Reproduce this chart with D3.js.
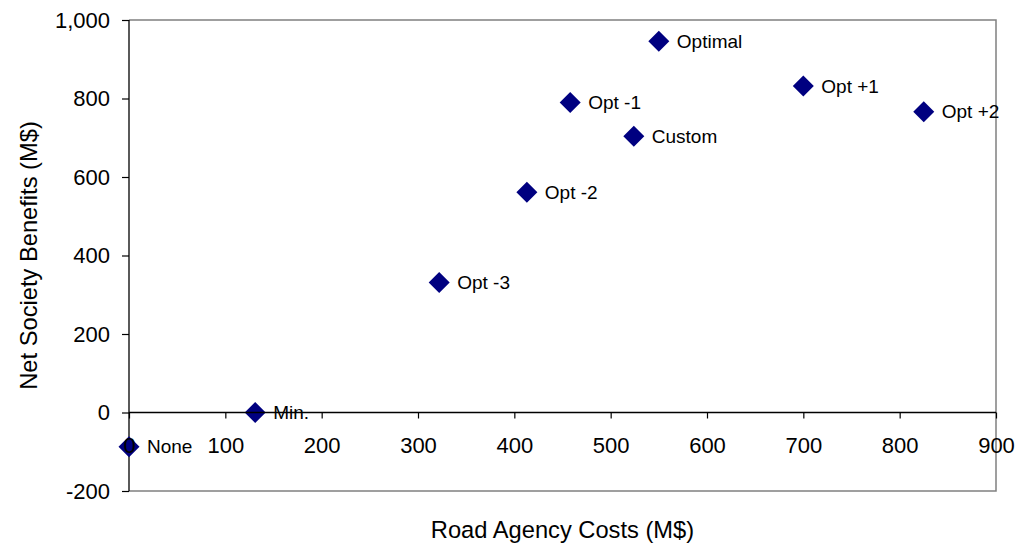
<!DOCTYPE html>
<html>
<head>
<meta charset="utf-8">
<script src="https://cdn.jsdelivr.net/npm/d3@7"></script>
<style>
  html, body { margin: 0; padding: 0; background: #fff; }
  svg { display: block; font-family: "Liberation Sans", Arial, sans-serif; }
</style>
</head>
<body>
<svg id="chart" width="1032" height="544"></svg>
<script>
// Alternatives: road agency cost vs. net benefit to society
const names    = ["None", "Min.", "Opt -3", "Opt -2", "Opt -1", "Custom", "Optimal", "Opt +1", "Opt +2"];
const costs    = [0, 131, 322, 413, 458, 524, 550, 700, 825];
const benefits = [-87, 0, 331, 561, 790, 704, 946, 832, 766];

const xTicks = [0, 100, 200, 300, 400, 500, 600, 700, 800, 900];
const yTicks = [-200, 0, 200, 400, 600, 800, 1000];
const yTickLabels = ["-200", "0", "200", "400", "600", "800", "1,000"];

const svg = d3.select("#chart");
const plotLeft = 129, plotRight = 996, plotTop = 20, plotBottom = 491;

const x = d3.scaleLinear().domain([0, 900]).range([plotLeft, plotRight]);
const y = d3.scaleLinear().domain([-200, 1000]).range([plotBottom, plotTop]);

// Plot frame (grey) on top, right and bottom
svg.append("path")
  .attr("d", `M${plotLeft},${plotTop}H${plotRight}V${plotBottom}H${plotLeft}`)
  .attr("fill", "none")
  .attr("stroke", "#808080")
  .attr("stroke-width", 1.5);

// Y axis
const yAxis = svg.append("g")
  .attr("transform", `translate(${plotLeft},0)`)
  .call(d3.axisLeft(y).tickValues(yTicks).tickSize(7).tickPadding(12)
        .tickFormat((d, i) => yTickLabels[i]));
yAxis.select(".domain").attr("stroke", "#000").attr("stroke-width", 1.3)
  .attr("d", `M0,${plotTop}V${plotBottom}`);
yAxis.selectAll(".tick line").attr("stroke", "#000").attr("stroke-width", 1.2);
yAxis.selectAll("text").attr("font-size", 22).attr("fill", "#000")
  .attr("font-family", "'Liberation Sans', Arial, sans-serif");

// X axis crossing at zero benefit
const xAxis = svg.append("g")
  .attr("transform", `translate(0,${y(0)})`)
  .call(d3.axisBottom(x).tickValues(xTicks).tickSize(6).tickFormat(d3.format("d")));
xAxis.select(".domain").attr("stroke", "#000").attr("stroke-width", 1.3)
  .attr("d", `M${plotLeft},0H${plotRight}`);
xAxis.selectAll(".tick line").attr("stroke", "#000").attr("stroke-width", 1.2);

// Diamond markers
const pts = names.map((n, i) => ({ name: n, cost: costs[i], benefit: benefits[i] }));

svg.append("g").selectAll("path")
  .data(pts)
  .join("path")
  .attr("d", "M0,-10.5L10.5,0L0,10.5L-10.5,0Z")
  .attr("transform", d => `translate(${x(d.cost)},${y(d.benefit)})`)
  .attr("fill", "#000080");

// X tick labels drawn above the markers
xAxis.raise();
xAxis.selectAll("text")
  .attr("y", 40).attr("dy", 0)
  .attr("font-size", 22).attr("fill", "#000")
  .attr("font-family", "'Liberation Sans', Arial, sans-serif");

// Data labels
svg.append("g").selectAll("text")
  .data(pts)
  .join("text")
  .attr("x", d => x(d.cost) + 18)
  .attr("y", d => y(d.benefit))
  .attr("dy", "0.35em")
  .attr("font-size", 19)
  .attr("fill", "#000")
  .text(d => d.name);

// Axis titles
svg.append("text")
  .attr("x", (plotLeft + plotRight) / 2)
  .attr("y", 538)
  .attr("text-anchor", "middle")
  .attr("font-size", 23.7)
  .text("Road Agency Costs (M$)");

svg.append("text")
  .attr("transform", `translate(37,${(plotTop + plotBottom) / 2}) rotate(-90)`)
  .attr("text-anchor", "middle")
  .attr("font-size", 23.7)
  .text("Net Society Benefits (M$)");
</script>
</body>
</html>
